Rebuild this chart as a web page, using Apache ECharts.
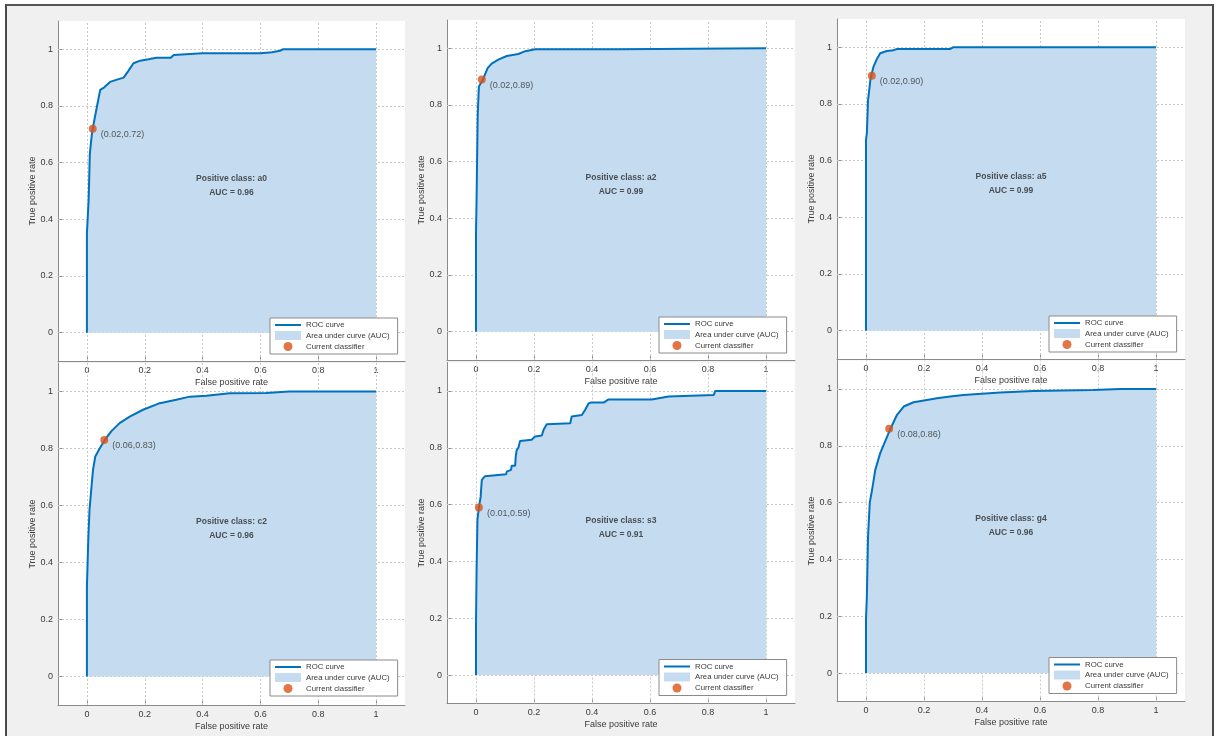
<!DOCTYPE html>
<html>
<head>
<meta charset="utf-8">
<script src="https://cdn.jsdelivr.net/npm/echarts@6/dist/echarts.min.js"></script>
<style>
html,body{margin:0;padding:0;background:#fff;width:1216px;height:736px;overflow:hidden;}
#frame{position:absolute;left:5px;top:4px;width:1205px;height:760px;background:#f0f0f0;border:2px solid #4a4a4a;border-top:2px solid #555;}
#chart{position:absolute;left:0;top:0;width:1216px;height:736px;}
</style>
</head>
<body>
<div id="frame"></div>
<div id="chart"></div>
<script>
// ---- data ----
const xTicks = [0, 0.2, 0.4, 0.6, 0.8, 1];
const yTicks = [0, 0.2, 0.4, 0.6, 0.8, 1];
const classNames = ['a0', 'a2', 'a5', 'c2', 's3', 'g4'];
const aucValues = ['0.96', '0.99', '0.99', '0.96', '0.91', '0.96'];
const opX = [0.02, 0.02, 0.02, 0.06, 0.01, 0.08];
const opY = [0.72, 0.89, 0.90, 0.83, 0.59, 0.86];

const fpr_a0 = [0, 0, 0.006, 0.01, 0.017, 0.02, 0.035, 0.046, 0.06, 0.08, 0.104, 0.127, 0.144, 0.161, 0.184, 0.213, 0.24, 0.29, 0.30, 0.40, 0.60, 0.64, 0.668, 0.677, 1];
const tpr_a0 = [0, 0.35, 0.47, 0.63, 0.70, 0.72, 0.80, 0.857, 0.866, 0.885, 0.893, 0.90, 0.925, 0.951, 0.96, 0.965, 0.97, 0.97, 0.98, 0.986, 0.986, 0.99, 0.995, 1, 1];

const fpr_a2 = [0, 0, 0.002, 0.005, 0.006, 0.01, 0.023, 0.04, 0.054, 0.077, 0.106, 0.146, 0.17, 0.204, 0.49, 0.495, 1];
const tpr_a2 = [0, 0.35, 0.47, 0.70, 0.77, 0.865, 0.888, 0.93, 0.946, 0.96, 0.973, 0.98, 0.99, 0.997, 0.997, 1, 1];

const fpr_a5 = [0, 0, 0.003, 0.007, 0.009, 0.015, 0.018, 0.026, 0.038, 0.049, 0.072, 0.095, 0.107, 0.29, 0.30, 1];
const tpr_a5 = [0, 0.673, 0.697, 0.814, 0.83, 0.885, 0.90, 0.932, 0.96, 0.979, 0.987, 0.99, 0.994, 0.994, 1, 1];

const fpr_c2 = [0, 0, 0.005, 0.009, 0.016, 0.021, 0.029, 0.044, 0.062, 0.084, 0.113, 0.148, 0.194, 0.252, 0.309, 0.356, 0.413, 0.494, 0.62, 0.70, 1];
const tpr_c2 = [0, 0.316, 0.49, 0.585, 0.667, 0.725, 0.772, 0.80, 0.83, 0.86, 0.889, 0.912, 0.936, 0.959, 0.971, 0.982, 0.985, 0.994, 0.995, 1, 1];

const fpr_s3 = [0, 0, 0.002, 0.005, 0.01, 0.016, 0.02, 0.031, 0.037, 0.104, 0.106, 0.121, 0.123, 0.135, 0.137, 0.14, 0.146, 0.152, 0.155, 0.192, 0.204, 0.227, 0.233, 0.244, 0.325, 0.33, 0.336, 0.365, 0.376, 0.388, 0.396, 0.44, 0.457, 0.606, 0.664, 0.67, 0.82, 0.825, 1];
const tpr_s3 = [0, 0.18, 0.37, 0.546, 0.59, 0.627, 0.687, 0.70, 0.707, 0.707, 0.716, 0.722, 0.737, 0.737, 0.768, 0.79, 0.80, 0.824, 0.828, 0.828, 0.84, 0.843, 0.863, 0.883, 0.886, 0.91, 0.915, 0.915, 0.933, 0.956, 0.959, 0.959, 0.97, 0.97, 0.98, 0.986, 0.986, 1, 1];

const fpr_g4 = [0, 0, 0.003, 0.007, 0.013, 0.021, 0.032, 0.049, 0.084, 0.107, 0.13, 0.164, 0.21, 0.245, 0.29, 0.336, 0.463, 0.578, 0.784, 0.876, 1];
const tpr_g4 = [0, 0.19, 0.27, 0.48, 0.60, 0.645, 0.715, 0.774, 0.859, 0.909, 0.938, 0.953, 0.961, 0.967, 0.973, 0.979, 0.987, 0.993, 0.996, 1, 1];

const fprs = [fpr_a0, fpr_a2, fpr_a5, fpr_c2, fpr_s3, fpr_g4];
const tprs = [tpr_a0, tpr_a2, tpr_a5, tpr_c2, tpr_s3, tpr_g4];

// ---- layout ----
const grids = [
  {left: 58, top: 21, width: 347, height: 340},
  {left: 447, top: 20, width: 348, height: 340},
  {left: 837, top: 19, width: 348, height: 340},
  {left: 58, top: 363, width: 347, height: 342},
  {left: 447, top: 362.5, width: 348, height: 341},
  {left: 837, top: 360.5, width: 348, height: 341}
];

const FONT = 'Liberation Sans';
const lineColor = '#0072BD';
const areaColor = '#c5dcf0';
const dotColor = '#D95319';

const option = {
  animation: false,
  textStyle: {fontFamily: FONT},
  grid: grids.map(g => Object.assign({show: true, backgroundColor: '#ffffff', borderWidth: 0}, g)),
  xAxis: grids.map((g, i) => ({
    type: 'value', gridIndex: i, min: -0.1, max: 1.1,
    name: 'False positive rate', nameLocation: 'middle', nameGap: 17,
    nameTextStyle: {color: '#3a3a3a', fontSize: 9, fontFamily: FONT},
    axisLine: {show: true, onZero: false, lineStyle: {color: '#8a8a8a', width: 1}},
    axisTick: {show: true, inside: true, length: 4, customValues: xTicks, lineStyle: {color: '#8a8a8a'}},
    axisLabel: {show: true, customValues: xTicks, margin: 5, color: '#3a3a3a', fontSize: 9, fontFamily: FONT,
      formatter: v => String(Math.round(v * 10) / 10)},
    splitLine: {show: false}
  })),
  yAxis: grids.map((g, i) => ({
    type: 'value', gridIndex: i, min: -0.1, max: 1.1,
    name: 'True positive rate', nameLocation: 'middle', nameGap: 20,
    nameTextStyle: {color: '#3a3a3a', fontSize: 9, fontFamily: FONT},
    axisLine: {show: true, onZero: false, lineStyle: {color: '#8a8a8a', width: 1}},
    axisTick: {show: true, inside: true, length: 4, customValues: yTicks, lineStyle: {color: '#8a8a8a'}},
    axisLabel: {show: true, customValues: yTicks, margin: 5, color: '#3a3a3a', fontSize: 9, fontFamily: FONT,
      formatter: v => String(Math.round(v * 10) / 10)},
    splitLine: {show: false}
  })),
  legend: grids.map(g => ({
    left: g.left + 212, top: g.top + 297, orient: 'vertical',
    backgroundColor: '#ffffff', borderColor: '#8a8a8a', borderWidth: 1, borderRadius: 0,
    padding: [3, 8, 3, 4], itemGap: 2, itemWidth: 26, itemHeight: 9,
    textStyle: {fontSize: 7.8, color: '#3a3a3a', fontFamily: FONT},
    selectedMode: false,
    data: [
      {name: 'ROC curve', itemStyle: {opacity: 0}},
      {name: 'Area under curve (AUC)', icon: 'rect'},
      {name: 'Current classifier', icon: 'circle'}
    ]
  })),
  series: []
};

grids.forEach((g, i) => {
  const pts = fprs[i].map((x, k) => [x, tprs[i][k]]);
  option.series.push({
    name: 'grid', type: 'line', xAxisIndex: i, yAxisIndex: i, data: [], z: 1, silent: true,
    markLine: {
      silent: true, z: 1, symbol: 'none', label: {show: false}, animation: false,
      lineStyle: {color: '#c8c8c8', type: [2, 2], width: 1},
      data: xTicks.map(v => ({xAxis: v})).concat(yTicks.map(v => ({yAxis: v})))
    }
  });
  option.series.push({
    name: 'Area under curve (AUC)', type: 'line', xAxisIndex: i, yAxisIndex: i, data: pts, z: 2,
    symbol: 'none', lineStyle: {width: 0, color: areaColor}, itemStyle: {color: areaColor},
    areaStyle: {color: areaColor, opacity: 1}
  });
  option.series.push({
    name: 'ROC curve', type: 'line', xAxisIndex: i, yAxisIndex: i, data: pts, z: 3,
    symbol: 'none', lineStyle: {width: 2, color: lineColor}, itemStyle: {color: lineColor}
  });
  option.series.push({
    name: 'Current classifier', type: 'scatter', xAxisIndex: i, yAxisIndex: i, z: 5,
    data: [[opX[i], opY[i]]], symbolSize: 8, itemStyle: {color: dotColor},
    label: {show: true, position: 'right', distance: 4, offset: [0, 6], fontSize: 9, color: '#333', fontFamily: FONT,
      formatter: '(' + opX[i].toFixed(2) + ',' + opY[i].toFixed(2) + ')'}
  });
  option.series.push({
    name: 'note', type: 'scatter', xAxisIndex: i, yAxisIndex: i, z: 6,
    data: [[0.5, 0.52]], symbolSize: 1, itemStyle: {color: 'rgba(0,0,0,0)'}, silent: true,
    label: {show: true, position: 'inside', fontSize: 8.5, fontWeight: 'bold', color: '#2a2a2a', lineHeight: 14, fontFamily: FONT,
      formatter: 'Positive class: ' + classNames[i] + '\nAUC = ' + aucValues[i]}
  });
});

const chart = echarts.init(document.getElementById('chart'), null, {renderer: 'canvas'});
chart.setOption(option);
</script>
</body>
</html>
